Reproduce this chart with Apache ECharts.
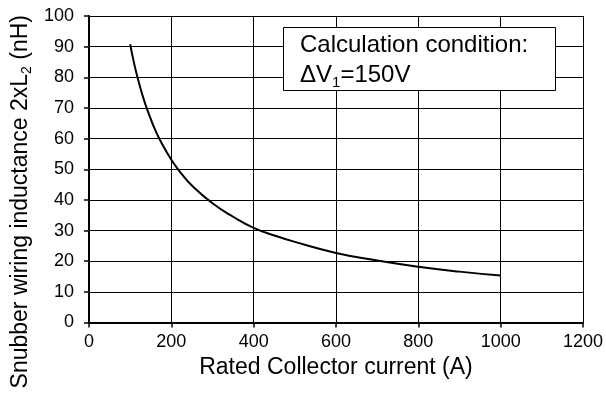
<!DOCTYPE html>
<html>
<head>
<meta charset="utf-8">
<script src="https://cdn.jsdelivr.net/npm/echarts@6/dist/echarts.min.js"></script>
<style>html,body{margin:0;padding:0;background:#fff}#c{width:606px;height:405px}</style>
</head>
<body>
<div id="c"></div>
<script>
const currents = [100, 110, 120, 130, 140, 150, 160, 175, 200, 225, 250, 300, 350, 400, 450, 500, 600, 700, 800, 900, 1000];
const inductance = [90.8, 84.3, 78.9, 74.1, 70.0, 66.4, 63.1, 58.9, 53.1, 48.5, 44.7, 38.9, 34.5, 30.9, 28.4, 26.3, 22.7, 20.2, 18.2, 16.6, 15.3];
const xTicks = [0, 200, 400, 600, 800, 1000, 1200];
const yTicks = [0, 10, 20, 30, 40, 50, 60, 70, 80, 90, 100];
const xName = 'Rated Collector current (A)';
const yNameParts = ['Snubber wiring inductance 2xL', '2', ' (nH)'];
const noteLine1 = 'Calculation condition:';
const noteLine2 = ['ΔV', '1', '=150V'];

const FONT = 'Liberation Sans, Arial, sans-serif';
const chart = echarts.init(document.getElementById('c'), null, {renderer: 'canvas'});
const axisCommon = {
  axisLine: {show: true, lineStyle: {color: '#000', width: 2}},
  axisTick: {show: true, inside: false, length: 5, lineStyle: {color: '#000', width: 1.5}},
  splitLine: {show: true, lineStyle: {color: '#000', width: 1}},
  axisLabel: {color: '#000', fontFamily: FONT, fontSize: 18, formatter: v => String(v)}
};
chart.setOption({
  animation: false,
  backgroundColor: '#fff',
  grid: {left: 89, right: 21, top: 16, bottom: 82.5, containLabel: false},
  xAxis: Object.assign({}, axisCommon, {
    type: 'value', min: xTicks[0], max: xTicks[xTicks.length - 1], interval: 200,
    axisLabel: Object.assign({}, axisCommon.axisLabel, {margin: 11}),
    name: xName, nameLocation: 'middle', nameGap: 32,
    nameTextStyle: {color: '#000', fontFamily: FONT, fontSize: 23}
  }),
  yAxis: Object.assign({}, axisCommon, {
    type: 'value', min: yTicks[0], max: yTicks[yTicks.length - 1], interval: 10,
    axisLabel: Object.assign({}, axisCommon.axisLabel, {margin: 15})
  }),
  series: [{
    type: 'line',
    data: currents.map((c, i) => [c, inductance[i]]),
    smooth: true,
    showSymbol: false,
    lineStyle: {color: '#000', width: 2},
    z: 5
  }],
  graphic: [
    {
      type: 'text', left: 9, top: 15,
      rotation: Math.PI / 2,
      style: {
        text: '{a|' + yNameParts[0] + '}{s|' + yNameParts[1] + '}{a|' + yNameParts[2] + '}',
        rich: {
          a: {fontFamily: FONT, fontSize: 23, color: '#000', lineHeight: 26, verticalAlign: 'bottom'},
          s: {fontFamily: FONT, fontSize: 14, color: '#000', lineHeight: 26, verticalAlign: 'bottom', padding: [0, 0, -2, 0]}
        }
      }
    },
    {
      type: 'rect', shape: {x: 283.5, y: 27.5, width: 272, height: 63},
      style: {fill: '#fff', stroke: '#000', lineWidth: 1}, z: 10
    },
    {
      type: 'text', x: 300, y: 45, z: 11,
      style: {text: noteLine1, fontFamily: FONT, fontSize: 24, fill: '#000', verticalAlign: 'middle'}
    },
    {
      type: 'text', x: 300, y: 73, z: 11,
      style: {
        text: '{a|' + noteLine2[0] + '}{s|' + noteLine2[1] + '}{a|' + noteLine2[2] + '}',
        verticalAlign: 'middle',
        rich: {
          a: {fontFamily: FONT, fontSize: 24, color: '#000', lineHeight: 28, verticalAlign: 'bottom'},
          s: {fontFamily: FONT, fontSize: 15, color: '#000', lineHeight: 28, verticalAlign: 'bottom', padding: [0, 0, -3, 0]}
        }
      }
    }
  ]
});
</script>
</body>
</html>
